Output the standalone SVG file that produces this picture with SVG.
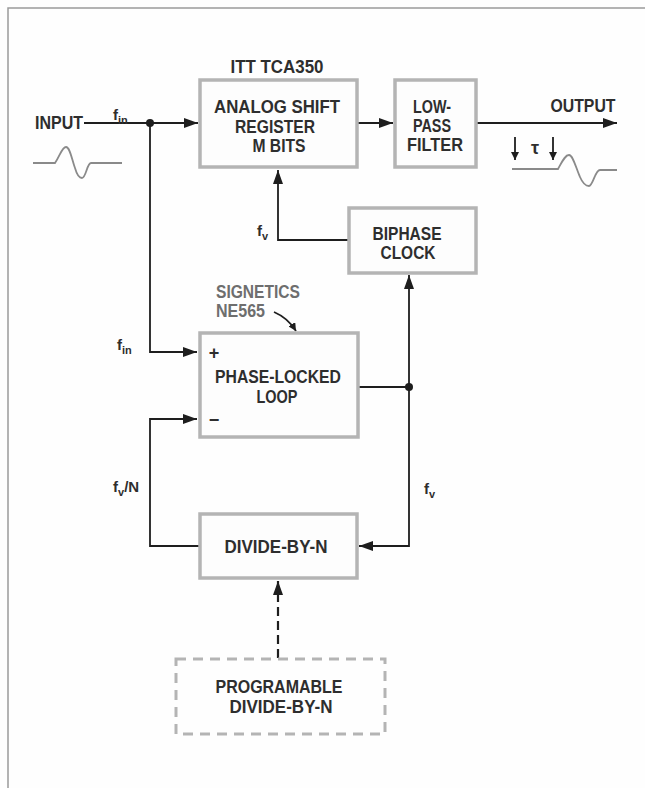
<svg xmlns="http://www.w3.org/2000/svg" width="645" height="788" viewBox="0 0 645 788">
<defs>
<style>
.frame{fill:none;stroke:#9a9a9a;stroke-width:1.5}
.box{fill:#fdfdfd;stroke:#b4b4b4;stroke-width:3.5}
.dbox{fill:none;stroke:#b4b4b4;stroke-width:3;stroke-dasharray:10,7}
.wire{fill:none;stroke:#1e1e1e;stroke-width:1.8}
.dash{fill:none;stroke:#1e1e1e;stroke-width:2.2;stroke-dasharray:9,5}
.wave{fill:none;stroke:#8a8a8a;stroke-width:1.8}
text{font-family:"Liberation Sans",Arial,sans-serif;font-weight:bold;fill:#2e2e2e;font-size:18px}
.lbl{text-anchor:middle}
.sm{font-size:15px}
.gray{fill:#6e6e6e}
</style>
<marker id="arr" viewBox="0 0 14 10" refX="14" refY="5" markerWidth="14" markerHeight="10" markerUnits="userSpaceOnUse" orient="auto">
<path d="M0,0 L14,5 L0,10 Z" fill="#1e1e1e"/>
</marker>
<marker id="arrs" viewBox="0 0 8 8" refX="8" refY="4" markerWidth="8" markerHeight="8" markerUnits="userSpaceOnUse" orient="auto">
<path d="M0,0 L8,4 L0,8 Z" fill="#1e1e1e"/>
</marker>
</defs>
<rect width="645" height="788" fill="#fefefe"/>
<path class="frame" d="M8,788 L8,8 L645,8"/>

<g id="connectors">
<path class="wire" d="M84,123 L198,123" marker-end="url(#arr)"/>
<circle cx="150" cy="123" r="4" fill="#1e1e1e"/>
<path class="wire" d="M150,123 L150,352 L197,352" marker-end="url(#arr)"/>
<path class="wire" d="M357,123 L393,123" marker-end="url(#arr)"/>
<path class="wire" d="M476,123 L617,123" marker-end="url(#arr)"/>
<path class="wire" d="M349,240 L278,240 L278,170" marker-end="url(#arr)"/>
<path class="wire" d="M358,387 L409,387"/>
<circle cx="409" cy="387" r="4" fill="#1e1e1e"/>
<path class="wire" d="M409,387 L409,275" marker-end="url(#arr)"/>
<path class="wire" d="M409,387 L409,546 L359,546" marker-end="url(#arr)"/>
<path class="wire" d="M200,546 L150,546 L150,419 L197,419" marker-end="url(#arr)"/>
<path class="dash" d="M278,658 L278,581" marker-end="url(#arr)"/>
<path class="wire" d="M274,312 Q288,318 296,331" marker-end="url(#arrs)"/>
</g>

<g id="input">
<text x="35" y="129" textLength="48" lengthAdjust="spacingAndGlyphs">INPUT</text>
<path class="wave" d="M33,163 L55,163 C60,156 62,147 66,147 C70,147 72,160 75,168 C77,175 79,178 82,178 C86,178 87,163 91,163 L122,163"/>
<text x="113" y="120" class="sm">f<tspan dy="4" font-size="11">in</tspan></text>
</g>

<g id="asr">
<rect class="box" x="200" y="80" width="157" height="87"/>
<text x="277" y="113" class="lbl" textLength="126" lengthAdjust="spacingAndGlyphs">ANALOG SHIFT</text>
<text x="275" y="133" class="lbl" textLength="80" lengthAdjust="spacingAndGlyphs">REGISTER</text>
<text x="279" y="152" class="lbl" textLength="53" lengthAdjust="spacingAndGlyphs">M BITS</text>
<text x="277" y="73" class="lbl" font-size="16" textLength="93" lengthAdjust="spacingAndGlyphs">ITT TCA350</text>
</g>

<g id="lpf">
<rect class="box" x="395" y="80" width="81" height="87"/>
<text x="432" y="113" class="lbl" font-size="17" textLength="38" lengthAdjust="spacingAndGlyphs">LOW-</text>
<text x="432" y="132" class="lbl" font-size="17" textLength="38" lengthAdjust="spacingAndGlyphs">PASS</text>
<text x="435" y="151" class="lbl" font-size="17" textLength="56" lengthAdjust="spacingAndGlyphs">FILTER</text>
</g>

<g id="output">
<text x="583" y="112" class="lbl" textLength="65" lengthAdjust="spacingAndGlyphs">OUTPUT</text>
<path class="wire" d="M515,137 L515,160" marker-end="url(#arrs)"/>
<path class="wire" d="M553,137 L553,160" marker-end="url(#arrs)"/>
<text x="535" y="154" class="lbl" font-size="11">τ</text>
<path class="wave" d="M512,169 L558,169 C562,162 565,155 569,155 C573,155 576,168 580,177 C583,184 586,186 589,186 C593,186 595,170 600,170 L617,170"/>
</g>

<g id="biphase">
<rect class="box" x="349" y="208" width="127" height="65"/>
<text x="407" y="240" class="lbl" font-size="17" textLength="69" lengthAdjust="spacingAndGlyphs">BIPHASE</text>
<text x="408" y="259" class="lbl" font-size="17" textLength="55" lengthAdjust="spacingAndGlyphs">CLOCK</text>
<text x="257" y="236" class="sm">f<tspan dy="4" font-size="11">v</tspan></text>
</g>

<g id="pll">
<rect class="box" x="200" y="333" width="158" height="104"/>
<text x="278" y="383" class="lbl" textLength="126" lengthAdjust="spacingAndGlyphs">PHASE-LOCKED</text>
<text x="277" y="403" class="lbl" textLength="41" lengthAdjust="spacingAndGlyphs">LOOP</text>
<text x="214" y="359" class="lbl" font-size="21">+</text>
<text x="214" y="426" class="lbl" font-size="21">−</text>
<text x="216" y="298" class="gray" font-size="17" textLength="84" lengthAdjust="spacingAndGlyphs">SIGNETICS</text>
<text x="216" y="317" class="gray" font-size="17" textLength="49" lengthAdjust="spacingAndGlyphs">NE565</text>
<text x="117" y="350" class="sm">f<tspan dy="4" font-size="11">in</tspan></text>
</g>

<g id="divider">
<rect class="box" x="200" y="514" width="157" height="64"/>
<text x="276" y="553" class="lbl" textLength="103" lengthAdjust="spacingAndGlyphs">DIVIDE-BY-N</text>
<text x="113" y="492" class="sm">f<tspan dy="4" font-size="11">v</tspan><tspan dy="-4">/N</tspan></text>
<text x="424" y="494" class="sm">f<tspan dy="4" font-size="11">v</tspan></text>
</g>

<g id="programable">
<rect class="dbox" x="176" y="659" width="209" height="75"/>
<text x="279" y="693" class="lbl" textLength="127" lengthAdjust="spacingAndGlyphs">PROGRAMABLE</text>
<text x="281" y="713" class="lbl" textLength="103" lengthAdjust="spacingAndGlyphs">DIVIDE-BY-N</text>
</g>
</svg>
